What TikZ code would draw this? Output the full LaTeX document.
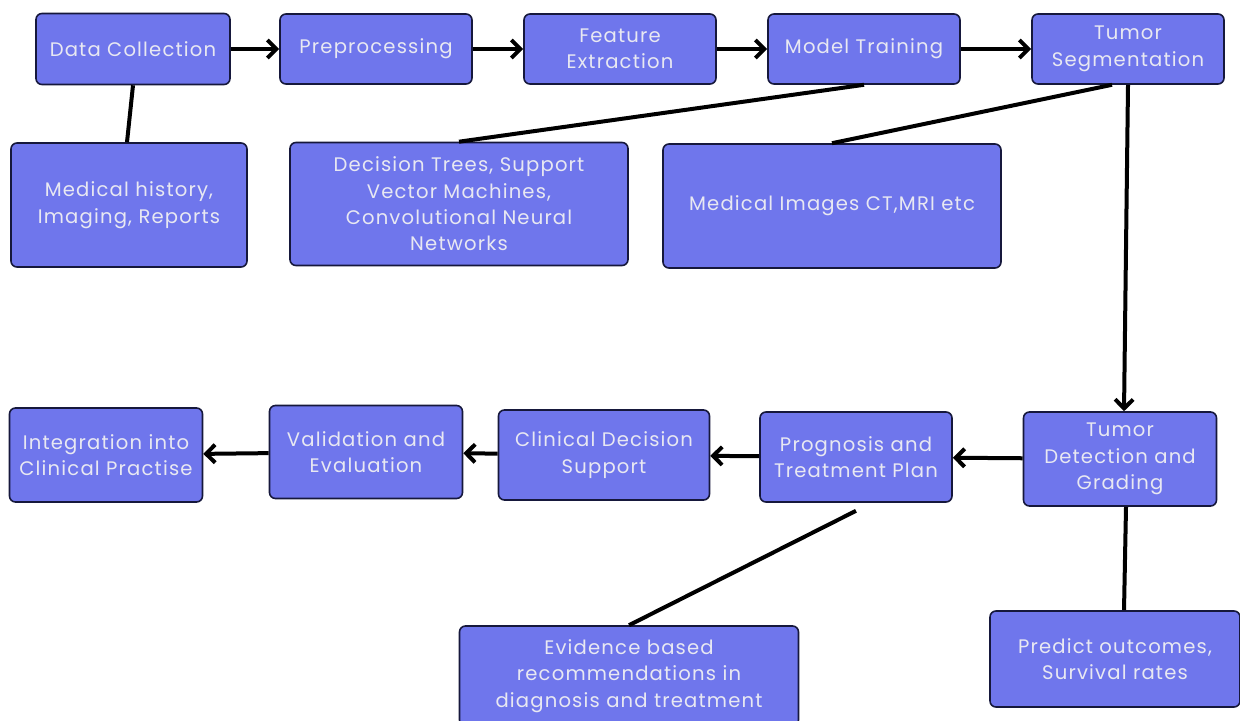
\documentclass[tikz,border=0pt]{standalone}
\usepackage{fontspec}
\newfontfamily\boxfont[LetterSpace=6]{Poppins}
\usepackage{tikz}
\usetikzlibrary{arrows.meta, positioning}
\definecolor{boxblue}{RGB}{111,118,236}
\definecolor{boxline}{RGB}{22,24,60}
\definecolor{boxtext}{RGB}{232,232,242}

\tikzset{
  box/.style={rectangle, rounded corners=3pt, draw=boxline, line width=0.8pt,
    fill=boxblue, text=boxtext, align=center, inner sep=2pt,
    font=\boxfont\fontsize{9.8}{13.2}\selectfont},
  flow/.style={line width=2pt, -{Straight Barb[length=4.5pt,width=9pt,line width=2pt]}},
  link/.style={line width=2pt}
}

\begin{document}
\begin{tikzpicture}[x=0.5pt, y=-0.5pt]
    \useasboundingbox (0,0) rectangle (1240,721);

      % top row
      \node[box, minimum width=97pt, minimum height=35.5pt] (dc)  at (133,49)  {Data Collection};
      \node[box, minimum width=96pt, minimum height=35pt]   (pre) at (376,49)  {Preprocessing};
      \node[box, minimum width=96pt, minimum height=35pt]   (fe)  at (620,49)  {Feature\\Extraction};
      \node[box, minimum width=96pt, minimum height=35pt]   (mt)  at (864,49)  {Model Training};
      \node[box, minimum width=96pt, minimum height=35pt]   (ts)  at (1128,49) {Tumor\\Segmentation};

      % second row
      \node[box, minimum width=118pt, minimum height=62pt]  (mh)  at (129,205) {Medical history,\\Imaging, Reports};
      \node[box, minimum width=169pt, minimum height=61.5pt] (dt) at (459,204) {Decision Trees, Support\\Vector Machines,\\Convolutional Neural\\Networks};
      \node[box, minimum width=169pt, minimum height=62pt]  (mi)  at (832,206) {Medical Images CT,MRI etc};

      % third row
      \node[box, minimum width=96.5pt, minimum height=47pt] (td)  at (1120,459) {Tumor\\Detection and\\Grading};
      \node[box, minimum width=96pt, minimum height=45pt]   (pt)  at (856,457)  {Prognosis and\\Treatment Plan};
      \node[box, minimum width=105.5pt, minimum height=45pt] (cd) at (604,455)  {Clinical Decision\\Support};
      \node[box, minimum width=96.5pt, minimum height=46.5pt] (ve) at (366,452) {Validation and\\Evaluation};
      \node[box, minimum width=96.5pt, minimum height=47pt] (ic)  at (106,455)  {Integration into\\Clinical Practise};

      % bottom row
      \node[box, minimum width=169.5pt, minimum height=50pt] (eb) at (629,676) {Evidence based\\recommendations in\\diagnosis and treatment};
      \node[box, minimum width=125pt, minimum height=48pt]  (po)  at (1115,659) {Predict outcomes,\\Survival rates};

      % arrows
      \draw[flow] (dc) -- (pre);
      \draw[flow] (pre) -- (fe);
      \draw[flow] (fe) -- (mt);
      \draw[flow] (mt) -- (ts);
      \draw[flow] (ts.south) -- ([xshift=2pt]td.north);
      \draw[flow] (td) -- (pt);
      \draw[flow] (pt) -- (cd);
      \draw[flow] (cd) -- (ve);
      \draw[flow] (ve) -- (ic);

      % plain links
      \draw[link] (dc.south) -- ([xshift=-1pt]mh.north);
      \draw[link] (mt.south) -- (dt.north);
      \draw[link] ([xshift=-8pt]ts.south) -- (mi.north);
      \draw[link] ([yshift=-4pt]pt.south) -- (eb.north);
      \draw[link] ([xshift=3pt]td.south) -- ([xshift=4.5pt]po.north);
\end{tikzpicture}
\end{document}
